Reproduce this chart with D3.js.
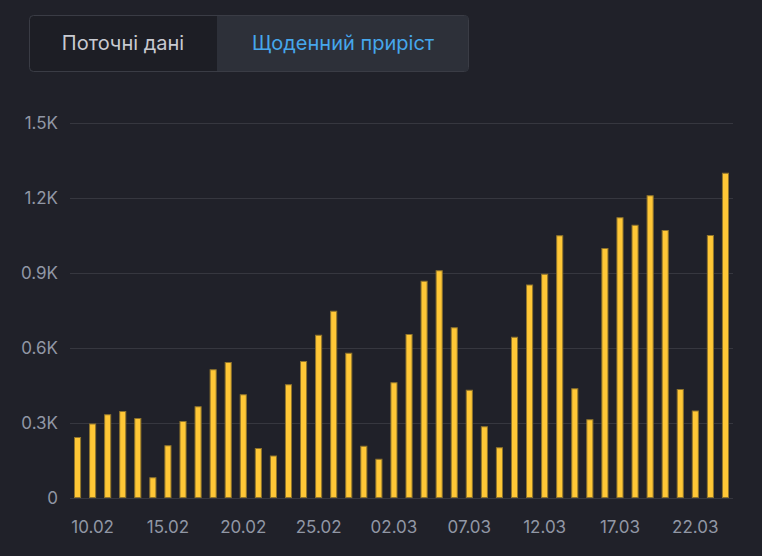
<!DOCTYPE html>
<html>
<head>
    <meta charset="utf-8">
    <title>Щоденний приріст</title>
    <script src="https://d3js.org/d3.v7.min.js"></script>
    <style>
        html, body { margin: 0; padding: 0; background: #202129; }
        body { width: 762px; height: 556px; overflow: hidden; font-family: Inter, "Noto Sans", sans-serif; }
        .grid line { stroke: #36373f; stroke-width: 1px; }
        .tick-label { fill: #9197a5; font-size: 17px; }
        .bar { fill: #ffc736; stroke: #8f742c; stroke-width: 1px; }
    </style>
</head>
<body>
    <div id="chart"></div>

    <script>
        // daily values, 09.02 .. 24.03
        const dates = [
            "09.02", "10.02", "11.02", "12.02", "13.02", "14.02", "15.02", "16.02", "17.02", "18.02",
            "19.02", "20.02", "21.02", "22.02", "23.02", "24.02", "25.02", "26.02", "27.02", "28.02",
            "01.03", "02.03", "03.03", "04.03", "05.03", "06.03", "07.03", "08.03", "09.03", "10.03",
            "11.03", "12.03", "13.03", "14.03", "15.03", "16.03", "17.03", "18.03", "19.03", "20.03",
            "21.03", "22.03", "23.03", "24.03"
        ];
        const values = [
            244, 298, 335, 348, 320, 83, 211, 308, 367, 515,
            544, 415, 200, 170, 455, 548, 653, 749, 581, 209,
            157, 463, 656, 869, 911, 683, 433, 287, 203, 645,
            854, 897, 1051, 439, 315, 1000, 1123, 1093, 1211, 1072,
            436, 350, 1052, 1301
        ];
        const yTicks = [0, 300, 600, 900, 1200, 1500];
        const yTickLabels = ["0", "0.3K", "0.6K", "0.9K", "1.2K", "1.5K"];
        const xTickLabels = ["10.02", "15.02", "20.02", "25.02", "02.03", "07.03", "12.03", "17.03", "22.03"];
        const tabs = ["Поточні дані", "Щоденний приріст"];

        const width = 762;
        const height = 556;
        const margin = { top: 123, right: 29, bottom: 58, left: 70 };

        const svg = d3.select("#chart")
            .append("svg")
            .attr("width", width)
            .attr("height", height);

        // tab switcher
        const tabX = [29, 217, 469];
        const tabG = svg.append("g");
        tabG.append("rect")
            .attr("x", 29.5).attr("y", 15.5)
            .attr("width", 439).attr("height", 56)
            .attr("rx", 4)
            .attr("fill", "#1d1e25")
            .attr("stroke", "#3a3c45");
        tabG.append("rect")
            .attr("x", tabX[1]).attr("y", 16)
            .attr("width", tabX[2] - tabX[1] - 1).attr("height", 55)
            .attr("fill", "#2d3039");
        tabG.selectAll("text.tab")
            .data(tabs)
            .enter().append("text")
            .attr("class", "tab")
            .attr("x", (d, i) => (tabX[i] + tabX[i + 1]) / 2)
            .attr("y", 50)
            .attr("text-anchor", "middle")
            .attr("font-size", "20px")
            .attr("fill", (d, i) => i === 1 ? "#46a7ec" : "#c8cad1")
            .text(d => d);

        const x = d3.scaleBand()
            .domain(dates)
            .range([margin.left, width - margin.right])
            .paddingInner(0.53)
            .paddingOuter(0.265);

        const y = d3.scaleLinear()
            .domain([0, 1500])
            .range([height - margin.bottom, margin.top]);

        // gridlines
        svg.append("g")
            .attr("class", "grid")
            .selectAll("line")
            .data(yTicks)
            .enter().append("line")
            .attr("x1", margin.left)
            .attr("x2", width - margin.right)
            .attr("y1", d => Math.round(y(d)) + 0.5)
            .attr("y2", d => Math.round(y(d)) + 0.5);

        // y labels
        svg.append("g")
            .selectAll("text")
            .data(yTicks)
            .enter().append("text")
            .attr("class", "tick-label")
            .attr("x", 58)
            .attr("y", d => y(d) + 6)
            .attr("text-anchor", "end")
            .text((d, i) => yTickLabels[i]);

        // bars
        svg.append("g")
            .selectAll("rect")
            .data(values)
            .enter().append("rect")
            .attr("class", "bar")
            .attr("x", (d, i) => x(dates[i]) + 0.5)
            .attr("y", d => y(d) + 0.5)
            .attr("width", x.bandwidth() - 1)
            .attr("height", d => y(0) - y(d) - 1);

        // x labels
        svg.append("g")
            .selectAll("text")
            .data(xTickLabels)
            .enter().append("text")
            .attr("class", "tick-label")
            .attr("x", d => x(d) + x.bandwidth() / 2)
            .attr("y", 533)
            .attr("text-anchor", "middle")
            .text(d => d);
    </script>
</body>
</html>
